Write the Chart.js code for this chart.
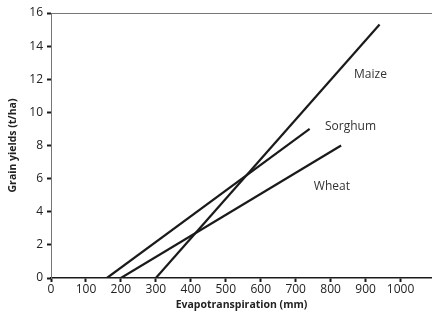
<!DOCTYPE html>
<html>
<head>
<meta charset="utf-8">
<script src="https://cdn.jsdelivr.net/npm/chart.js@4/dist/chart.umd.min.js"></script>
<style>
  html, body { margin: 0; padding: 0; background: #fff; }
  #wrap { width: 432px; height: 318px; }
</style>
</head>
<body>
<div id="wrap"><canvas id="chart"></canvas></div>
<script>
// data
const cropNames = ['Maize', 'Sorghum', 'Wheat'];
const maizeET = [300, 940];
const maizeYield = [0, 15.3];
const sorghumET = [160, 740];
const sorghumYield = [0, 9];
const wheatET = [200, 830];
const wheatYield = [0, 8];
const xTickValues = [0, 100, 200, 300, 400, 500, 600, 700, 800, 900, 1000];
const yTickValues = [0, 2, 4, 6, 8, 10, 12, 14, 16];

// where the crop names sit, in data units
const labelSpots = [
    { x: 867, y: 12.26 },
    { x: 784, y: 9.12 },
    { x: 752, y: 5.5 },
];

const toPoints = (xs, ys) => xs.map((x, i) => ({ x: x, y: ys[i] }));
const ink = '#1a1a1a';
const fontFamily = "'Open Sans', 'DejaVu Sans', sans-serif";

const lineSet = (label, xs, ys) => ({
    label: label,
    data: toPoints(xs, ys),
    showLine: true,
    borderColor: ink,
    borderWidth: 2.2,
    pointRadius: 0,
    fill: false,
});

// top frame line and crop name labels
const extras = {
    id: 'extras',
    afterDraw(chart) {
        const ctx = chart.ctx;
        const area = chart.chartArea;
        ctx.save();
        ctx.strokeStyle = '#777';
        ctx.lineWidth = 1;
        ctx.beginPath();
        ctx.moveTo(area.left, area.top + 0.5);
        ctx.lineTo(chart.width, area.top + 0.5);
        ctx.stroke();

        ctx.fillStyle = '#333';
        ctx.font = '12px ' + fontFamily;
        ctx.textBaseline = 'middle';
        ctx.textAlign = 'left';
        const xs = chart.scales.x, ys = chart.scales.y;
        cropNames.forEach((name, i) => {
            ctx.fillText(name, xs.getPixelForValue(labelSpots[i].x), ys.getPixelForValue(labelSpots[i].y));
        });
        ctx.restore();
    }
};

new Chart(document.getElementById('chart'), {
    type: 'scatter',
    data: {
        datasets: [
            lineSet(cropNames[0], maizeET, maizeYield),
            lineSet(cropNames[1], sorghumET, sorghumYield),
            lineSet(cropNames[2], wheatET, wheatYield),
        ],
    },
    options: {
        responsive: true,
        maintainAspectRatio: false,
        animation: false,
        layout: { padding: { top: 13, right: 0, left: 0, bottom: 0 } },
        plugins: {
            legend: { display: false },
            tooltip: { enabled: false },
        },
        scales: {
            x: {
                type: 'linear',
                min: 0,
                max: 1090,
                afterBuildTicks: axis => { axis.ticks = xTickValues.map(v => ({ value: v })); },
                afterFit: axis => { axis.height = 40; },
                border: { display: true, color: ink, width: 1.5 },
                grid: { display: true, drawOnChartArea: false, tickLength: 4, tickWidth: 2, tickColor: ink },
                ticks: {
                    color: '#222',
                    padding: 0,
                    maxRotation: 0,
                    autoSkip: false,
                    callback: v => String(v),
                    font: { family: fontFamily, size: 12 },
                },
                title: {
                    display: true,
                    text: 'Evapotranspiration (mm)',
                    color: '#222',
                    font: { family: fontFamily, size: 10.5, weight: 'bold' },
                    padding: { top: 0, bottom: 7 },
                },
            },
            y: {
                min: 0,
                max: 16,
                afterBuildTicks: axis => { axis.ticks = yTickValues.map(v => ({ value: v })); },
                afterFit: axis => { axis.width = 51; },
                border: { display: true, color: '#777', width: 1 },
                grid: { display: true, drawOnChartArea: false, tickLength: 4, tickWidth: 2, tickColor: ink },
                ticks: {
                    color: '#222',
                    padding: 4,
                    font: { family: fontFamily, size: 12 },
                },
                title: {
                    display: true,
                    text: 'Grain yields (t/ha)',
                    color: '#222',
                    font: { family: fontFamily, size: 10.5, weight: 'bold' },
                    padding: { top: 7, bottom: 0 },
                },
            },
        },
    },
    plugins: [extras],
});
</script>
</body>
</html>
